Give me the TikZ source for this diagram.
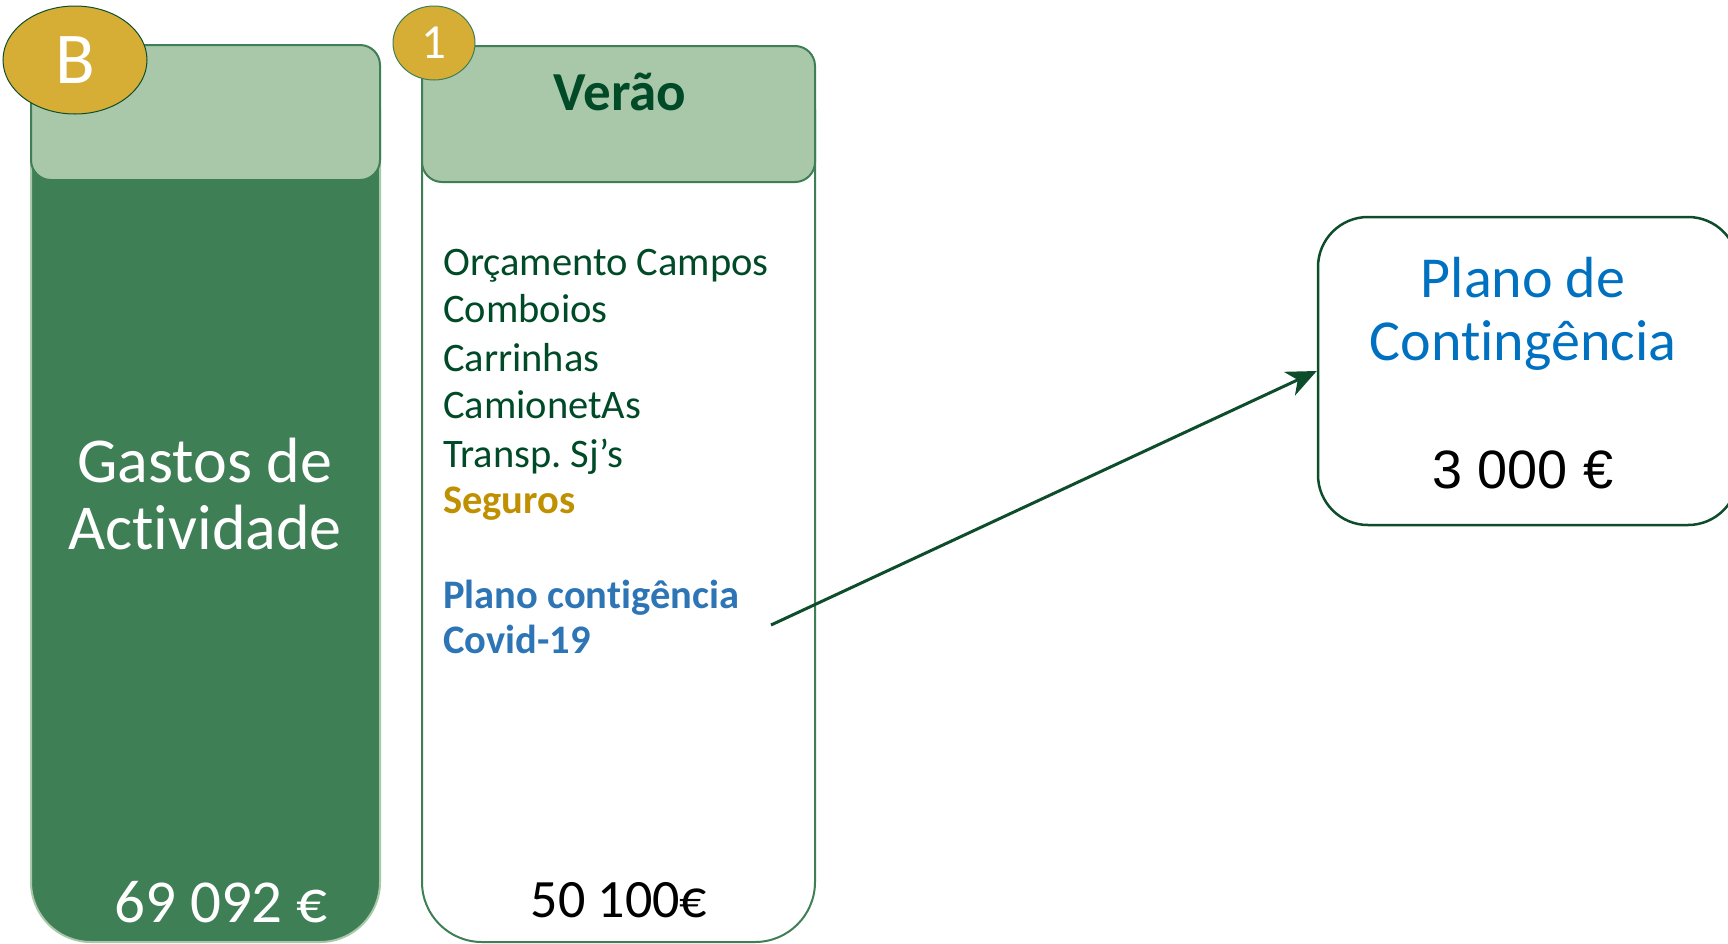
\documentclass[tikz,border=0pt]{standalone}
\usepackage{fontspec}
\setmainfont{Carlito}[Ligatures={NoCommon, NoRequired, NoContextual}, Contextuals=NoAlternate]
\newfontfamily\arialfont{Liberation Sans}
\usepackage{tikz}
\usetikzlibrary{shapes.geometric, arrows.meta, positioning}
\frenchspacing
\definecolor{darkgreen}{HTML}{3F7F55}
\definecolor{lightgreen}{HTML}{A9C8AA}
\definecolor{textgreen}{HTML}{004A27}
\definecolor{linegreen}{HTML}{0E4D2B}
\definecolor{gold}{HTML}{D6AE35}
\definecolor{goldtext}{HTML}{BF9000}
\definecolor{bluetext}{HTML}{2E75B6}
\definecolor{planblue}{HTML}{0070C0}
\tikzset{
x=1pt, y=-1pt, % one unit is one pixel of the slide, y going down
body/.style={rectangle, rounded corners=60pt, inner sep=0pt, line width=2pt}, % the tall columns
header/.style={rectangle, rounded corners=20pt, inner sep=0pt, line width=2pt, draw=darkgreen, fill=lightgreen}, % the title part of a column
badge/.style={ellipse, inner sep=0pt, fill=gold, text=white}, % the round letters in the corners
item/.style={anchor=base west, inner sep=0pt, text=textgreen, font=\fontsize{40.5}{47}\selectfont}, % lines of the list
seta/.style={-{Stealth[length=30pt, width=26pt, inset=9pt]}, line width=3pt, draw=linegreen}, % the arrow
}

\begin{document}
\begin{tikzpicture}
    \useasboundingbox (0,0) rectangle (1728,943);
    % column B
    \node[body, draw=lightgreen, fill=darkgreen, minimum width=349pt, minimum height=892pt] (bbody) at (205.5,496) {};
    \node[header, minimum width=349pt, minimum height=135pt] (bhead) at (205.5,112.5) {};
    \node[badge, draw=linegreen, line width=1pt, minimum width=144pt, minimum height=108pt, font=\fontsize{73}{80}\selectfont] (b) at (75,60) {B};
    \node[anchor=base, inner sep=0pt, text=white, font=\fontsize{64}{67}\selectfont] (gastos) at (205,482) {Gastos de};
    \node[anchor=base, inner sep=0pt, text=white, font=\fontsize{64}{67}\selectfont] (actividade) at (205,549) {Actividade};
    \node[anchor=base, inner sep=0pt, text=white, font=\fontsize{61}{64}\selectfont] (totalb) at (221,922) {69 092 €};

    % column 1
    \node[body, draw=darkgreen, fill=white, minimum width=393pt, minimum height=892pt] (vbody) at (618.5,496) {};
    \node[header, minimum width=393pt, minimum height=136pt] (vhead) at (618.5,114) {};
    \node[badge, draw=darkgreen, line width=1pt, minimum width=82pt, minimum height=74pt, font=\fontsize{49}{54}\selectfont] (um) at (434,43) {1};
    \node[anchor=base, inner sep=0pt, text=textgreen, font=\bfseries\fontsize{55}{60}\selectfont] (verao) at (620,110) {Verão};
    \node[item] (orc) at (443,275) {Orçamento Campos};
    \node[item] (comb) at (443,322) {Comboios};
    \node[item] (carr) at (443,371) {Carrinhas};
    \node[item] (cami) at (443,418) {CamionetAs};
    \node[item] (transp) at (443,467) {Transp. Sj’s};
    \node[item, text=goldtext, font=\bfseries\fontsize{40.5}{47}\selectfont] (seg) at (443,513) {Seguros};
    \node[item, text=bluetext, font=\bfseries\fontsize{40.5}{47}\selectfont] (planoc) at (443,608) {Plano contigência};
    \node[item, text=bluetext, font=\bfseries\fontsize{40.5}{47}\selectfont] (covid) at (443,653) {Covid-19};
    \node[anchor=base, inner sep=0pt, font=\fontsize{54}{60}\selectfont] (totalv) at (619,917) {50 100€};

    % contingency box
    \node[rectangle, rounded corners=50pt, draw=linegreen, line width=2.5pt, fill=white, minimum width=420pt, minimum height=308pt] (planobox) at (1528,371) {};
    \node[anchor=base, inner sep=0pt, text=planblue, font=\fontsize{58}{64}\selectfont] (planode) at (1523,297) {Plano de};
    \node[anchor=base, inner sep=0pt, text=planblue, font=\fontsize{58}{64}\selectfont] (conting) at (1523,360) {Contingência};
    \node[anchor=base, inner sep=0pt, font=\arialfont\fontsize{54}{60}\selectfont] (valor) at (1523,488) {3 000 €};

    \coordinate (covidend) at (771,625);
    \draw[seta] (covidend) -- (planobox.west);
\end{tikzpicture}
\end{document}
